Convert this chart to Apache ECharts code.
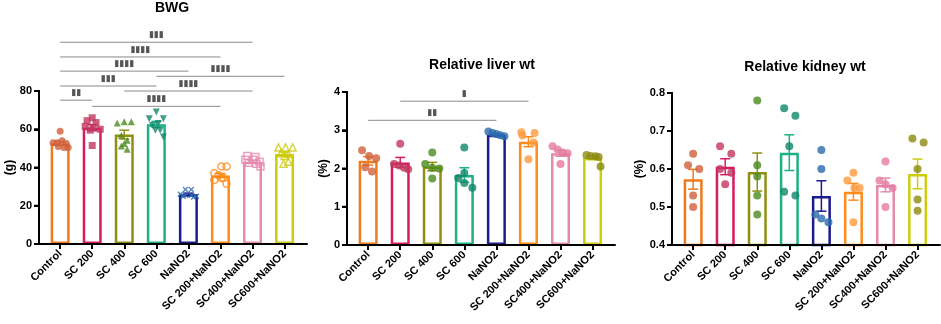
<!DOCTYPE html>
<html>
<head>
<meta charset="utf-8">
<script src="https://cdn.jsdelivr.net/npm/echarts@6/dist/echarts.min.js"></script>
<style>
  html, body { margin: 0; padding: 0; background: #fff; }
  #chart { width: 941px; height: 324px; }
</style>
</head>
<body>
<div id="chart"></div>
<script>
var groups = ['Control', 'SC 200', 'SC 400', 'SC 600', 'NaNO2', 'SC 200+NaNO2', 'SC400+NaNO2', 'SC600+NaNO2'];
// x position of each group on the (value) x axis
var catPos = [1, 2, 3, 4, 5, 6, 7, 8];
var xMin = 0.34, xMax = 8.7;
var barColors = ['#F07A1E', '#D81B60', '#8F8F12', '#1DB184', '#1B1C8E', '#FF8C1A', '#E58AAE', '#CCCC10'];
var dotColors = ['#D0603C', '#C2375F', '#4C8A1E', '#12876C', '#2C6AAE', '#FF9A3C', '#E47AA0', '#8B8B10'];

// BWG (g)
var bwgTicks = [0, 20, 40, 60, 80];
var bwgMean = [52.6, 60.8, 57.2, 62.6, 26.0, 35.8, 43.0, 47.0];
var bwgSem = [1.0, 1.6, 2.3, 1.5, 0.6, 1.1, 0.7, 1.1];
var bwgPoints = [
  [59, 53, 53, 54, 52.5, 51, 50.5, 50.5],
  [66, 64.5, 63.5, 61.5, 61, 60, 59.5, 51.5],
  [63.3, 63.9, 63.9, 56.9, 54.3, 52.6, 51.2, 49.5],
  [69, 65.5, 65.5, 62, 63, 59.5, 59.5, 56],
  [28.5, 28.5, 26, 25.5, 25.5, 25, 25, 24.5],
  [40.5, 40.5, 37, 36, 34.5, 33.5, 31.5, 34.5],
  [46, 45.5, 44, 44, 43, 42.5, 42, 40.5],
  [50.5, 50.5, 50.5, 47.5, 47, 46, 43, 42]
];
var bwgJitter = [
  [0, -0.22, -0.09, 0.06, 0.19, -0.06, 0.12, 0.25],
  [0, -0.16, 0.12, -0.22, 0.03, 0.25, -0.06, 0],
  [-0.22, 0, 0.22, -0.09, 0.09, 0, -0.09, 0.09],
  [0, -0.22, 0.22, -0.12, 0.06, -0.03, 0.12, 0.22],
  [-0.09, 0.09, -0.25, -0.09, 0.09, 0.25, -0.16, 0.16],
  [0.03, 0.19, -0.19, -0.06, 0.09, -0.19, 0.19, 0.03],
  [-0.16, 0.09, -0.22, 0.03, 0.22, -0.12, 0.12, 0.25],
  [-0.19, 0.03, 0.25, -0.12, 0.12, 0, 0.12, -0.03]
];
var bwgSymbols = ['circle', 'rect', 'triangle', 'triangle', 'path://M4,0H6V4H10V6H6V10H4V6H0V4H4Z', 'circle', 'rect', 'triangle'];
var bwgOpen = [false, false, false, false, false, true, true, true];
// [from group, to group, level, stars]
var bwgBrackets = [
  [0, 6, 105.5, '▮▮▮'],
  [0, 5, 97.8, '▮▮▮▮'],
  [0, 4, 90.4, '▮▮▮▮'],
  [3, 7, 87.7, '▮▮▮▮'],
  [0, 3, 82.6, '▮▮▮'],
  [2, 6, 80.0, '▮▮▮▮'],
  [0, 1, 75.2, '▮▮'],
  [1, 5, 72.0, '▮▮▮▮']
];

// Relative liver wt (%)
var liverTicks = [0, 1, 2, 3, 4];
var liverMean = [2.20, 2.16, 2.05, 1.83, 2.88, 2.70, 2.40, 2.28];
var liverSem = [0.11, 0.13, 0.11, 0.19, 0.02, 0.13, 0.08, 0.05];
var liverPoints = [
  [2.48, 2.33, 2.27, 2.03, 1.92],
  [2.65, 2.12, 2.08, 2.02, 1.98],
  [2.42, 2.12, 2.02, 2.00, 1.74],
  [2.55, 1.88, 1.75, 1.62, 1.50],
  [2.97, 2.93, 2.90, 2.87, 2.84],
  [2.95, 2.93, 2.86, 2.68, 2.24],
  [2.58, 2.50, 2.42, 2.40, 2.12],
  [2.35, 2.33, 2.32, 2.30, 2.05]
];
var liverJitter = [
  [-0.19, 0.03, 0.25, -0.09, 0.12],
  [0, -0.19, -0.03, 0.12, 0.25],
  [0, -0.22, 0, 0.22, 0],
  [0, 0, -0.19, 0, 0.25],
  [-0.25, -0.12, 0, 0.12, 0.25],
  [-0.22, 0.19, -0.19, 0.16, 0],
  [-0.25, -0.09, 0.06, 0.22, 0],
  [-0.19, -0.06, 0.09, 0.19, 0.25]
];
var liverBrackets = [
  [1, 5, 3.76, '▮'],
  [0, 4, 3.26, '▮▮']
];

// Relative kidney wt (%)
var kidneyTicks = [0.4, 0.5, 0.6, 0.7, 0.8];
var kidneyMean = [0.573, 0.606, 0.592, 0.643, 0.529, 0.540, 0.558, 0.587];
var kidneySem = [0.026, 0.021, 0.05, 0.047, 0.04, 0.022, 0.018, 0.039];
var kidneyPoints = [
  [0.64, 0.61, 0.60, 0.53, 0.50],
  [0.66, 0.64, 0.60, 0.59, 0.56],
  [0.78, 0.61, 0.58, 0.53, 0.48],
  [0.76, 0.74, 0.66, 0.54, 0.53],
  [0.65, 0.60, 0.48, 0.47, 0.46],
  [0.59, 0.57, 0.55, 0.55, 0.46],
  [0.62, 0.57, 0.56, 0.55, 0.50],
  [0.68, 0.67, 0.60, 0.52, 0.49]
];
var kidneyJitter = [
  [0, -0.16, 0.19, 0, 0],
  [-0.16, 0.19, -0.16, 0.19, 0],
  [0, 0, 0, 0, 0],
  [-0.16, 0.19, 0, -0.16, 0.19],
  [0, 0, -0.19, 0, 0.22],
  [0, -0.19, 0.19, 0.03, 0],
  [0, -0.19, 0, 0.22, 0],
  [-0.16, 0.19, 0, 0, 0]
];

var FONT = 'Liberation Sans';

function xAxisFor(gi) {
  return {
    gridIndex: gi, type: 'value', min: xMin, max: xMax, z: 10,
    splitLine: { show: false },
    axisLine: { show: true, lineStyle: { color: '#000', width: 2 } },
    axisTick: { show: true, customValues: catPos, length: 5, lineStyle: { color: '#000', width: 2 } },
    axisLabel: {
      customValues: catPos, rotate: 45, margin: 8,
      color: '#000', fontFamily: FONT, fontWeight: 'bold', fontSize: 11,
      formatter: function (v) { return groups[catPos.indexOf(Math.round(v))]; }
    }
  };
}

function yAxisFor(gi, ticks, name, gap) {
  return {
    gridIndex: gi, type: 'value', z: 10,
    min: ticks[0], max: ticks[ticks.length - 1],
    splitNumber: ticks.length - 1,
    name: name, nameLocation: 'middle', nameGap: gap, nameRotate: 90,
    nameTextStyle: { color: '#000', fontFamily: FONT, fontWeight: 'bold', fontSize: 12 },
    splitLine: { show: false },
    axisLine: { show: true, lineStyle: { color: '#000', width: 2 } },
    axisTick: { show: true, length: 5, lineStyle: { color: '#000', width: 2 } },
    axisLabel: { margin: 7, color: '#000', fontFamily: FONT, fontWeight: 'bold', fontSize: 11 }
  };
}

// y axis spine + ticks, drawn through the axis scales
function spineRender(ticks) {
  return function (params, api) {
    var p = api.coord([api.value(0), api.value(1)]);
    var st = { stroke: '#000', lineWidth: 2 };
    var kids = [{ type: 'line', shape: { x1: p[0] - 5, y1: p[1], x2: p[0], y2: p[1] }, style: st }];
    var next = ticks[params.dataIndex + 1];
    if (next !== undefined) {
      var q = api.coord([api.value(0), next]);
      kids.push({ type: 'line', shape: { x1: p[0], y1: p[1] + 1, x2: q[0], y2: q[1] - 1 }, style: st });
    }
    return { type: 'group', children: kids };
  };
}

function errRender(params, api) {
  var x = api.value(0), m = api.value(1), s = api.value(2);
  var top = api.coord([x, m + s]);
  var bot = api.coord([x, m - s]);
  var st = { stroke: api.visual('color'), lineWidth: 1.5 };
  return {
    type: 'group',
    children: [
      { type: 'line', shape: { x1: top[0], y1: top[1], x2: bot[0], y2: bot[1] }, style: st },
      { type: 'line', shape: { x1: top[0] - 5, y1: top[1], x2: top[0] + 5, y2: top[1] }, style: st },
      { type: 'line', shape: { x1: bot[0] - 5, y1: bot[1], x2: bot[0] + 5, y2: bot[1] }, style: st }
    ]
  };
}

function bracketRender(list) {
  return function (params, api) {
    var a = api.coord([api.value(0), api.value(2)]);
    var b = api.coord([api.value(1), api.value(2)]);
    return {
      type: 'group',
      children: [
        { type: 'line', shape: { x1: a[0], y1: a[1], x2: b[0], y2: b[1] }, style: { stroke: '#8a8a8a', lineWidth: 1 } },
        { type: 'text', x: (a[0] + b[0]) / 2, y: a[1] - 3,
          style: { text: list[params.dataIndex][3], fill: '#555', font: '9px DejaVu Sans', align: 'center', verticalAlign: 'bottom' } }
      ]
    };
  };
}

function panelSeries(gi, mean, sem, points, jitter, brackets, ticks, opts) {
  var out = [];
  out.push({
    type: 'bar', xAxisIndex: gi, yAxisIndex: gi, barWidth: 19, z: 2,
    itemStyle: { color: '#fff', borderWidth: 2.5 },
    data: mean.map(function (v, i) {
      return { value: [catPos[i], v], itemStyle: { borderColor: barColors[i] } };
    })
  });
  out.push({
    type: 'custom', xAxisIndex: gi, yAxisIndex: gi, z: 3,
    renderItem: errRender,
    data: mean.map(function (v, i) {
      return { value: [catPos[i], v, sem[i]], itemStyle: { color: barColors[i] } };
    })
  });
  groups.forEach(function (g, i) {
    var sym = opts.symbols ? opts.symbols[i] : 'circle';
    var open = opts.open ? opts.open[i] : false;
    out.push({
      type: 'scatter', xAxisIndex: gi, yAxisIndex: gi, z: 4,
      symbol: sym,
      symbolSize: opts.size,
      symbolRotate: (opts.symbols && i === 3) ? 180 : (opts.symbols && i === 4 ? 45 : 0),
      itemStyle: open ? { color: 'rgba(255,255,255,0)', borderColor: barColors[i], borderWidth: 1.5 } : { color: dotColors[i] },
      data: points[i].map(function (v, k) { return [catPos[i] + jitter[i][k], v]; })
    });
  });
  if (brackets) {
    out.push({
      type: 'custom', xAxisIndex: gi, yAxisIndex: gi, z: 5, clip: false,
      renderItem: bracketRender(brackets),
      data: brackets.map(function (b) { return [catPos[b[0]], catPos[b[1]], b[2]]; })
    });
  }
  out.push({
    type: 'custom', xAxisIndex: gi, yAxisIndex: gi, z: 6, clip: false, silent: true,
    renderItem: spineRender(ticks),
    data: ticks.map(function (t) { return [xMin, t]; })
  });
  return out;
}

var chart = echarts.init(document.getElementById('chart'));
var titleStyle = { color: '#000', fontFamily: FONT, fontWeight: 'bold', fontSize: 14 };

var option = {
  animation: false,
  backgroundColor: '#fff',
  title: [
    { text: 'BWG', left: 172, top: 1, textAlign: 'center', padding: 0, textStyle: titleStyle },
    { text: 'Relative liver wt', left: 482, top: 58, textAlign: 'center', padding: 0, textStyle: titleStyle },
    { text: 'Relative kidney wt', left: 805, top: 60, textAlign: 'center', padding: 0, textStyle: titleStyle }
  ],
  grid: [
    { left: 39, top: 91, width: 268, height: 153 },
    { left: 347, top: 92, width: 268, height: 153 },
    { left: 672, top: 93, width: 268, height: 152 }
  ],
  xAxis: [xAxisFor(0), xAxisFor(1), xAxisFor(2)],
  yAxis: [
    yAxisFor(0, bwgTicks, '(g)', 22),
    yAxisFor(1, liverTicks, '(%)', 15),
    yAxisFor(2, kidneyTicks, '(%)', 25)
  ],
  series: []
    .concat(panelSeries(0, bwgMean, bwgSem, bwgPoints, bwgJitter, bwgBrackets, bwgTicks, { symbols: bwgSymbols, open: bwgOpen, size: 7 }))
    .concat(panelSeries(1, liverMean, liverSem, liverPoints, liverJitter, liverBrackets, liverTicks, { size: 8 }))
    .concat(panelSeries(2, kidneyMean, kidneySem, kidneyPoints, kidneyJitter, null, kidneyTicks, { size: 8 }))
};

chart.setOption(option);
</script>
</body>
</html>
